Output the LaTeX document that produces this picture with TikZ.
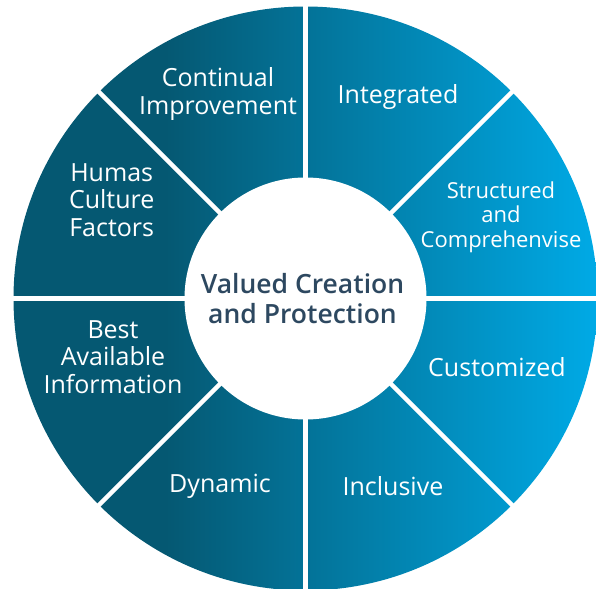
\documentclass[tikz,border=0pt]{standalone}
\usepackage{fontspec}
\setmainfont{Open Sans}
\IfFontExistsTF{Open Sans SemiBold}{\newfontfamily\hubfont{Open Sans SemiBold}}{%
  \IfFontExistsTF{OpenSans-SemiBold}{\newfontfamily\hubfont{OpenSans-SemiBold}}{%
    \IfFontExistsTF{Open Sans Semibold}{\newfontfamily\hubfont{Open Sans Semibold}}{%
      \newcommand\hubfont{\bfseries}}}}
\IfFontExistsTF{OpenSans-Medium}{\newfontfamily\partfont{OpenSans-Medium}}{%
  \IfFontExistsTF{Open Sans Medium}{\newfontfamily\partfont{Open Sans Medium}}{%
    \newcommand\partfont{\normalfont}}}
\usepackage{xcolor}
\definecolor{ringdark}{RGB}{5,88,114}
\definecolor{ringlight}{RGB}{0,170,230}
\definecolor{hubtext}{RGB}{45,72,96}
\usetikzlibrary{positioning}
\pgfdeclarehorizontalshading{ringfade}{100bp}{color(0bp)=(ringdark); color(38bp)=(ringdark);
  color(75bp)=(ringlight); color(100bp)=(ringlight)}

\begin{document}
\begin{tikzpicture}[
  x=1pt, y=1pt,
  part/.style={text=white, align=center, inner sep=0pt,
               font=\partfont\fontsize{25}{27.5}\selectfont},
  smallpart/.style={part, font=\partfont\fontsize{22}{24.5}\selectfont},
  hub/.style={text=hubtext, align=center, inner sep=0pt,
              font=\hubfont\fontsize{26.5}{30}\selectfont},
  gap/.style={white, line width=4.5pt},
]
  \useasboundingbox (-305.5,-289.5) rectangle (290.5,298.5);

  % ring with gradient, cut by white gaps
  \shade[shading=ringfade] (0,0) circle (292);
  \foreach \ang in {0,45,...,315}
    \draw[gap] (0,0) -- (\ang:300);
  \fill[white] (0,0) circle (121);

  \node[hub] (hub) at (-3,0) {Valued Creation\\and Protection};

  \node[part] (integrated) at (92.5,201.5) {Integrated};
  \node[smallpart] (structured) at (195.5,81.5) {Structured\\and\\Comprehenvise};
  \node[part] (customized) at (191.5,-68.5) {Customized};
  \node[part] (inclusive) at (87.5,-187.5) {Inclusive};
  \node[part] (dynamic) at (-85.5,-187.5) {Dynamic};
  \node[part] (bestinfo) at (-192.5,-58.5) {Best\\Available\\Information};
  \node[part] (culture) at (-193.8,98.5) {Humas\\Culture\\Factors};
  \node[part] (improvement) at (-87.5,204.5) {Continual\\Improvement};
\end{tikzpicture}
\end{document}
